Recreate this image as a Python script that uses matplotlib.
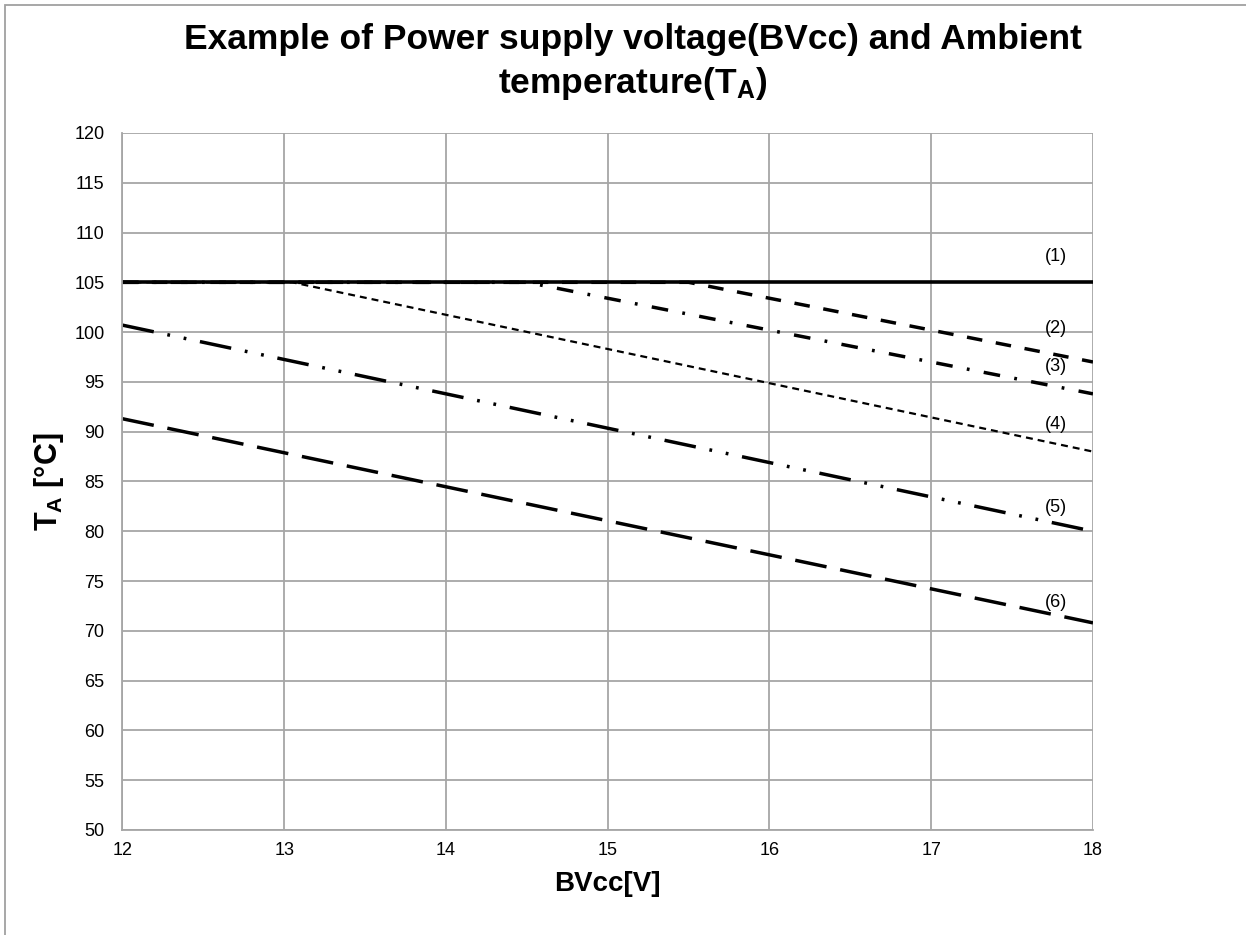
import matplotlib
matplotlib.use("Agg")
import matplotlib.pyplot as plt
from matplotlib.patches import Rectangle

plt.rcParams['font.family'] = ['Liberation Sans', 'DejaVu Sans']
plt.rcParams['mathtext.fontset'] = 'custom'
plt.rcParams['mathtext.rm'] = 'Liberation Sans:bold'
plt.rcParams['mathtext.default'] = 'rm'
plt.rcParams['lines.scale_dashes'] = False

# curve data (BVcc [V] -> TA [degC])
x1 = [12, 18]
y1 = [105, 105]
x2 = [12, 15.5, 18]
y2 = [105, 105, 97.0]
x3 = [12, 14.5, 18]
y3 = [105, 105, 93.8]
x4 = [12, 13.05, 18]
y4 = [105, 105, 88.0]
x5 = [12, 18]
y5 = [100.7, 80.0]
x6 = [12, 18]
y6 = [91.3, 70.8]

curve_labels = ['(1)', '(2)', '(3)', '(4)', '(5)', '(6)']
label_y = [107.6, 100.4, 96.5, 90.7, 82.4, 72.8]
label_x = 17.77

fig = plt.figure(figsize=(12.46, 9.35), dpi=100)
ax = fig.add_axes([0.0983, 0.1123, 0.7789, 0.7455])

grid_c = '#a6a6a6'
ax.plot(x6, y6, color='black', lw=2.5, linestyle=(0, (23, 10)), dash_capstyle='butt')
ax.plot(x5, y5, color='black', lw=2.5, linestyle=(0, (23, 10, 2, 10, 2, 10)), dash_capstyle='butt')
ax.plot(x4, y4, color='black', lw=1.6, linestyle=(0, (5, 3.6)), dash_capstyle='butt')
ax.plot(x3, y3, color='black', lw=2.5, linestyle=(0, (12, 10.4, 2, 10.4)), dash_capstyle='butt')
ax.plot(x2, y2, color='black', lw=2.5, linestyle=(0, (11.2, 9.9)), dash_capstyle='butt')
ax.plot(x1, y1, color='black', lw=2.6, solid_capstyle='butt')

for lab, ly in zip(curve_labels, label_y):
    ax.text(label_x, ly, lab, fontsize=13, ha='center', va='center')

ax.set_xlim(12, 18)
ax.set_ylim(50, 120)
ax.set_xticks(range(12, 19))
ax.set_yticks(range(50, 121, 5))
ax.grid(True, color=grid_c, lw=1.3)
ax.set_axisbelow(True)
for s in ax.spines.values():
    s.set_visible(False)
for side in ['left', 'bottom']:
    ax.spines[side].set_visible(True)
    ax.spines[side].set_color(grid_c)
    ax.spines[side].set_linewidth(1.3)
ax.tick_params(axis='both', length=0, labelsize=13)
ax.tick_params(axis='x', pad=9)
ax.tick_params(axis='y', pad=13)

ax.set_xlabel('BVcc[V]', fontsize=20, fontweight='bold', labelpad=8)
ax.set_ylabel('T$_{A}$ [°C]', fontsize=22, fontweight='bold', labelpad=6)

fig.text(0.508, 0.933, 'Example of Power supply voltage(BVcc) and Ambient\ntemperature(T$_{A}$)',
         fontsize=25.5, fontweight='bold', ha='center', va='center', linespacing=1.32)

# chart frame (cropped at right and bottom)
fig.add_artist(Rectangle((5 / 1246, -0.1), 1.2, 1.1 - 5 / 935, transform=fig.transFigure,
                         fill=False, edgecolor='#a0a0a0', lw=1.3))

fig.savefig('out.png', dpi=100)
